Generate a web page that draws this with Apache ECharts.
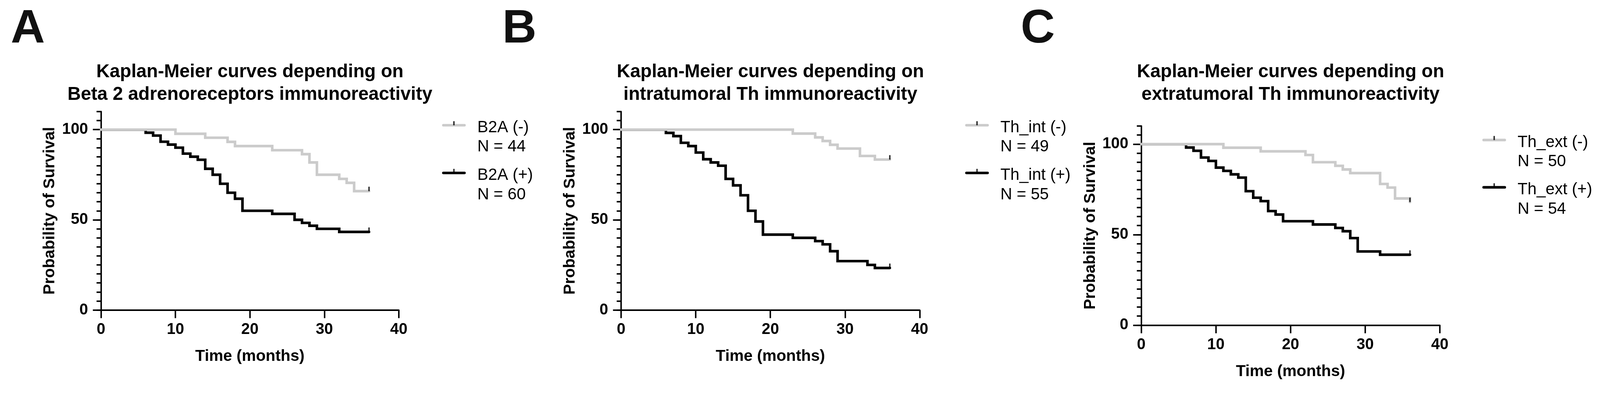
<!DOCTYPE html>
<html>
<head>
<meta charset="utf-8">
<script src="https://cdn.jsdelivr.net/npm/echarts@6/dist/echarts.min.js"></script>
<style>
html,body{margin:0;padding:0;background:#ffffff;overflow:hidden;}
#chart{position:absolute;left:0;top:0;}
</style>
</head>
<body>
<div id="chart"></div>
<script>
// ---------------- data ----------------
const xTickValues = [0, 10, 20, 30, 40];
const yTickValues = [0, 50, 100];
const panelLetters = ['A', 'B', 'C'];
const panelTitles = [
  'Kaplan-Meier curves depending on\nBeta 2 adrenoreceptors immunoreactivity',
  'Kaplan-Meier curves depending on\nintratumoral Th immunoreactivity',
  'Kaplan-Meier curves depending on\nextratumoral Th immunoreactivity'
];
const xAxisTitle = 'Time (months)';
const yAxisTitle = 'Probability of Survival';

// Panel A
const groupNamesA = ['B2A (-)', 'B2A (+)'];
const groupSizesA = [44, 60];
const timeA_neg = [0, 10, 14, 17, 18, 23, 27, 28, 29, 32, 33, 34, 36];
const survA_neg = [100, 97.7, 95.5, 93.2, 90.9, 88.6, 86.4, 81.8, 75, 72.7, 70.5, 65.9, 65.9];
const timeA_pos = [0, 6, 7, 8, 9, 10, 11, 12, 13, 14, 15, 16, 17, 18, 19, 23, 26, 27, 28, 29, 32, 36];
const survA_pos = [100, 98.3, 96.7, 93.3, 91.7, 90, 86.7, 85, 83.3, 78.3, 75, 70, 65, 61.7, 55, 53.3, 50, 48.3, 46.7, 45, 43.3, 43.3];

// Panel B
const groupNamesB = ['Th_int (-)', 'Th_int (+)'];
const groupSizesB = [49, 55];
const timeB_neg = [0, 23, 26, 27, 28, 29, 32, 34, 36];
const survB_neg = [100, 97.8, 95.7, 93.7, 91.6, 89.5, 85.4, 83.4, 83.4];
const timeB_pos = [0, 6, 7, 8, 9, 10, 11, 12, 13, 14, 15, 16, 17, 18, 19, 23, 26, 27, 28, 29, 33, 34, 36];
const survB_pos = [100, 98.2, 96.4, 92.7, 90.9, 87.3, 83.6, 81.8, 80, 72.7, 69.1, 63.6, 55, 49.1, 41.8, 40, 38.2, 36.4, 32.6, 27.1, 25, 23.3, 23.3];

// Panel C
const groupNamesC = ['Th_ext (-)', 'Th_ext (+)'];
const groupSizesC = [50, 54];
const timeC_neg = [0, 11, 16, 22, 23, 26, 27, 28, 32, 33, 34, 36];
const survC_neg = [100, 98, 96, 94, 90, 88, 86, 84, 78, 76, 70, 68];
const timeC_pos = [0, 6, 7, 8, 9, 10, 11, 12, 13, 14, 15, 16, 17, 18, 19, 23, 26, 27, 28, 29, 32, 36];
const survC_pos = [100, 98.1, 96.3, 92.6, 90.7, 87, 85.2, 83.3, 81.5, 74, 70.4, 68.5, 63, 61.1, 57.4, 55.6, 53.7, 51.9, 48.1, 40.7, 38.9, 38.9];

// ---------------- build ----------------
const BASE_W = 4325, BASE_H = 1056;
const vw = window.innerWidth || BASE_W;
const vh = window.innerHeight || BASE_H;
const S = Math.min(vw / BASE_W, vh / BASE_H);
const px = v => v * S;

const FONT = '"Liberation Sans", Arial, Helvetica, sans-serif';
const GRAY = '#cbcbcb';
const BLACK = '#000000';

const panels = [
  { names: groupNamesA, sizes: groupSizesA, neg: [timeA_neg, survA_neg], pos: [timeA_pos, survA_pos] },
  { names: groupNamesB, sizes: groupSizesB, neg: [timeB_neg, survB_neg], pos: [timeB_pos, survB_pos] },
  { names: groupNamesC, sizes: groupSizesC, neg: [timeC_neg, survC_neg], pos: [timeC_pos, survC_pos] }
];

const layout = [
  { left: 273,  top: 302, w: 805, h: 537, letterLeft: 29,   legendLeft: 1195, legendBars: [339, 468] },
  { left: 1679, top: 302, w: 807, h: 537, letterLeft: 1358, legendLeft: 2609, legendBars: [339, 468] },
  { left: 3085, top: 341, w: 807, h: 539, letterLeft: 2759, legendLeft: 4007, legendBars: [379, 507] }
];

const BAR_ICON = 'path://M0,0 M90,36 M3.5,7.5 L60.5,7.5 A3.5,3.5 0 0 1 60.5,14.5 L3.5,14.5 A3.5,3.5 0 0 1 3.5,7.5 Z';
const TICK_ICON = 'path://M0,0 M90,36 M30,0 L34,0 L34,11 L30,11 Z';

const pairs = (ts, vs) => ts.map((t, i) => [t, vs[i]]);

const titles = [], grids = [], xAxes = [], yAxes = [], series = [], legends = [];

panels.forEach((p, i) => {
  const L = layout[i];
  titles.push({
    text: panelLetters[i], left: px(L.letterLeft), top: px(16), padding: 0,
    textAlign: 'left', textVerticalAlign: 'top',
    textStyle: { fontFamily: FONT, fontSize: px(128), lineHeight: px(128), fontWeight: 'bold', color: '#111111' }
  });
  titles.push({
    text: panelTitles[i], left: px(L.left + L.w / 2), top: px(164), padding: 0,
    textAlign: 'center', textVerticalAlign: 'top',
    textStyle: { fontFamily: FONT, fontSize: px(50), lineHeight: px(62), fontWeight: 'bold', color: BLACK }
  });
  grids.push({ left: px(L.left), top: px(L.top), width: px(L.w), height: px(L.h), containLabel: false });

  xAxes.push({
    type: 'value', gridIndex: i, min: 0, max: 40, interval: 10,
    axisLine: { show: true, onZero: false, lineStyle: { color: BLACK, width: px(4) } },
    axisTick: { show: true, length: px(22), lineStyle: { color: BLACK, width: px(4) } },
    axisLabel: { margin: px(32), fontFamily: FONT, fontSize: px(42), fontWeight: 'bold', color: BLACK,
      formatter: v => (xTickValues.indexOf(v) >= 0 ? String(v) : '') },
    splitLine: { show: false },
    name: xAxisTitle, nameLocation: 'middle', nameGap: px(104),
    nameTextStyle: { fontFamily: FONT, fontSize: px(43), fontWeight: 'bold', color: BLACK }
  });

  yAxes.push({
    type: 'value', gridIndex: i, min: 0, max: 110, interval: 5, position: 'left',
    axisLine: { show: true, onZero: false, lineStyle: { color: BLACK, width: px(4) } },
    axisTick: { show: true, length: px(12), lineStyle: { color: BLACK, width: px(4) } },
    axisLabel: { margin: px(35), fontFamily: FONT, fontSize: px(42), fontWeight: 'bold', color: BLACK,
      formatter: v => (yTickValues.indexOf(v) >= 0 ? String(v) : '') },
    splitLine: { show: false },
    name: yAxisTitle, nameLocation: 'middle', nameGap: px(116),
    nameTextStyle: { fontFamily: FONT, fontSize: px(43), fontWeight: 'bold', color: BLACK }
  });
  yAxes.push({
    type: 'value', gridIndex: i, min: 0, max: 110, position: 'left', offset: 0,
    axisLine: { show: false, onZero: false },
    axisTick: { show: true, length: px(22), customValues: yTickValues, lineStyle: { color: BLACK, width: px(4) } },
    axisLabel: { show: false },
    splitLine: { show: false }
  });

  series.push({
    type: 'line', name: p.names[1], xAxisIndex: i, yAxisIndex: 2 * i,
    data: pairs(p.pos[0], p.pos[1]), step: 'end', symbol: 'none', showSymbol: false,
    color: BLACK, itemStyle: { color: BLACK },
    lineStyle: { color: BLACK, width: px(7), cap: 'round', join: 'miter' }, z: 2, silent: true
  });
  series.push({
    type: 'line', name: p.names[0], xAxisIndex: i, yAxisIndex: 2 * i,
    data: pairs(p.neg[0], p.neg[1]), step: 'end', symbol: 'none', showSymbol: false,
    color: GRAY, itemStyle: { color: GRAY },
    lineStyle: { color: GRAY, width: px(7), cap: 'round', join: 'miter' }, z: 3, silent: true
  });
  const lastNeg = p.neg[0].length - 1, lastPos = p.pos[0].length - 1;
  const censorName = 'censored ' + panelLetters[i];
  series.push({
    type: 'scatter', name: censorName, xAxisIndex: i, yAxisIndex: 2 * i,
    data: [[p.neg[0][lastNeg], p.neg[1][lastNeg]], [p.pos[0][lastPos], p.pos[1][lastPos]]],
    symbol: 'rect', symbolSize: [px(4), px(12)], symbolOffset: [0, -px(6)],
    color: BLACK, itemStyle: { color: BLACK }, z: 4, silent: true
  });

  [0, 1].forEach(k => {
    const nm = p.names[k], n = p.sizes[k];
    const common = {
      show: true, orient: 'vertical', left: px(L.legendLeft), top: px(L.legendBars[k] - 71), padding: 0,
      itemWidth: px(90), itemHeight: px(36), selectedMode: false,
      itemStyle: { borderWidth: 0 },
      textStyle: { fontFamily: FONT, fontSize: px(44), lineHeight: px(52), color: BLACK, padding: 0 }
    };
    legends.push(Object.assign({}, common, {
      data: [{ name: nm, icon: BAR_ICON }],
      formatter: () => ' \n' + nm + '\nN = ' + n
    }));
    legends.push(Object.assign({}, common, {
      z: 5,
      data: [{ name: censorName, icon: TICK_ICON }],
      formatter: () => ' \n \n '
    }));
  });
});

const el = document.getElementById('chart');
el.style.width = vw + 'px';
el.style.height = vh + 'px';
const chart = echarts.init(el, null, { width: vw, height: vh, renderer: 'canvas' });
chart.setOption({
  backgroundColor: '#ffffff',
  animation: false,
  title: titles,
  grid: grids,
  xAxis: xAxes,
  yAxis: yAxes,
  legend: legends,
  series: series
});
</script>
</body>
</html>
